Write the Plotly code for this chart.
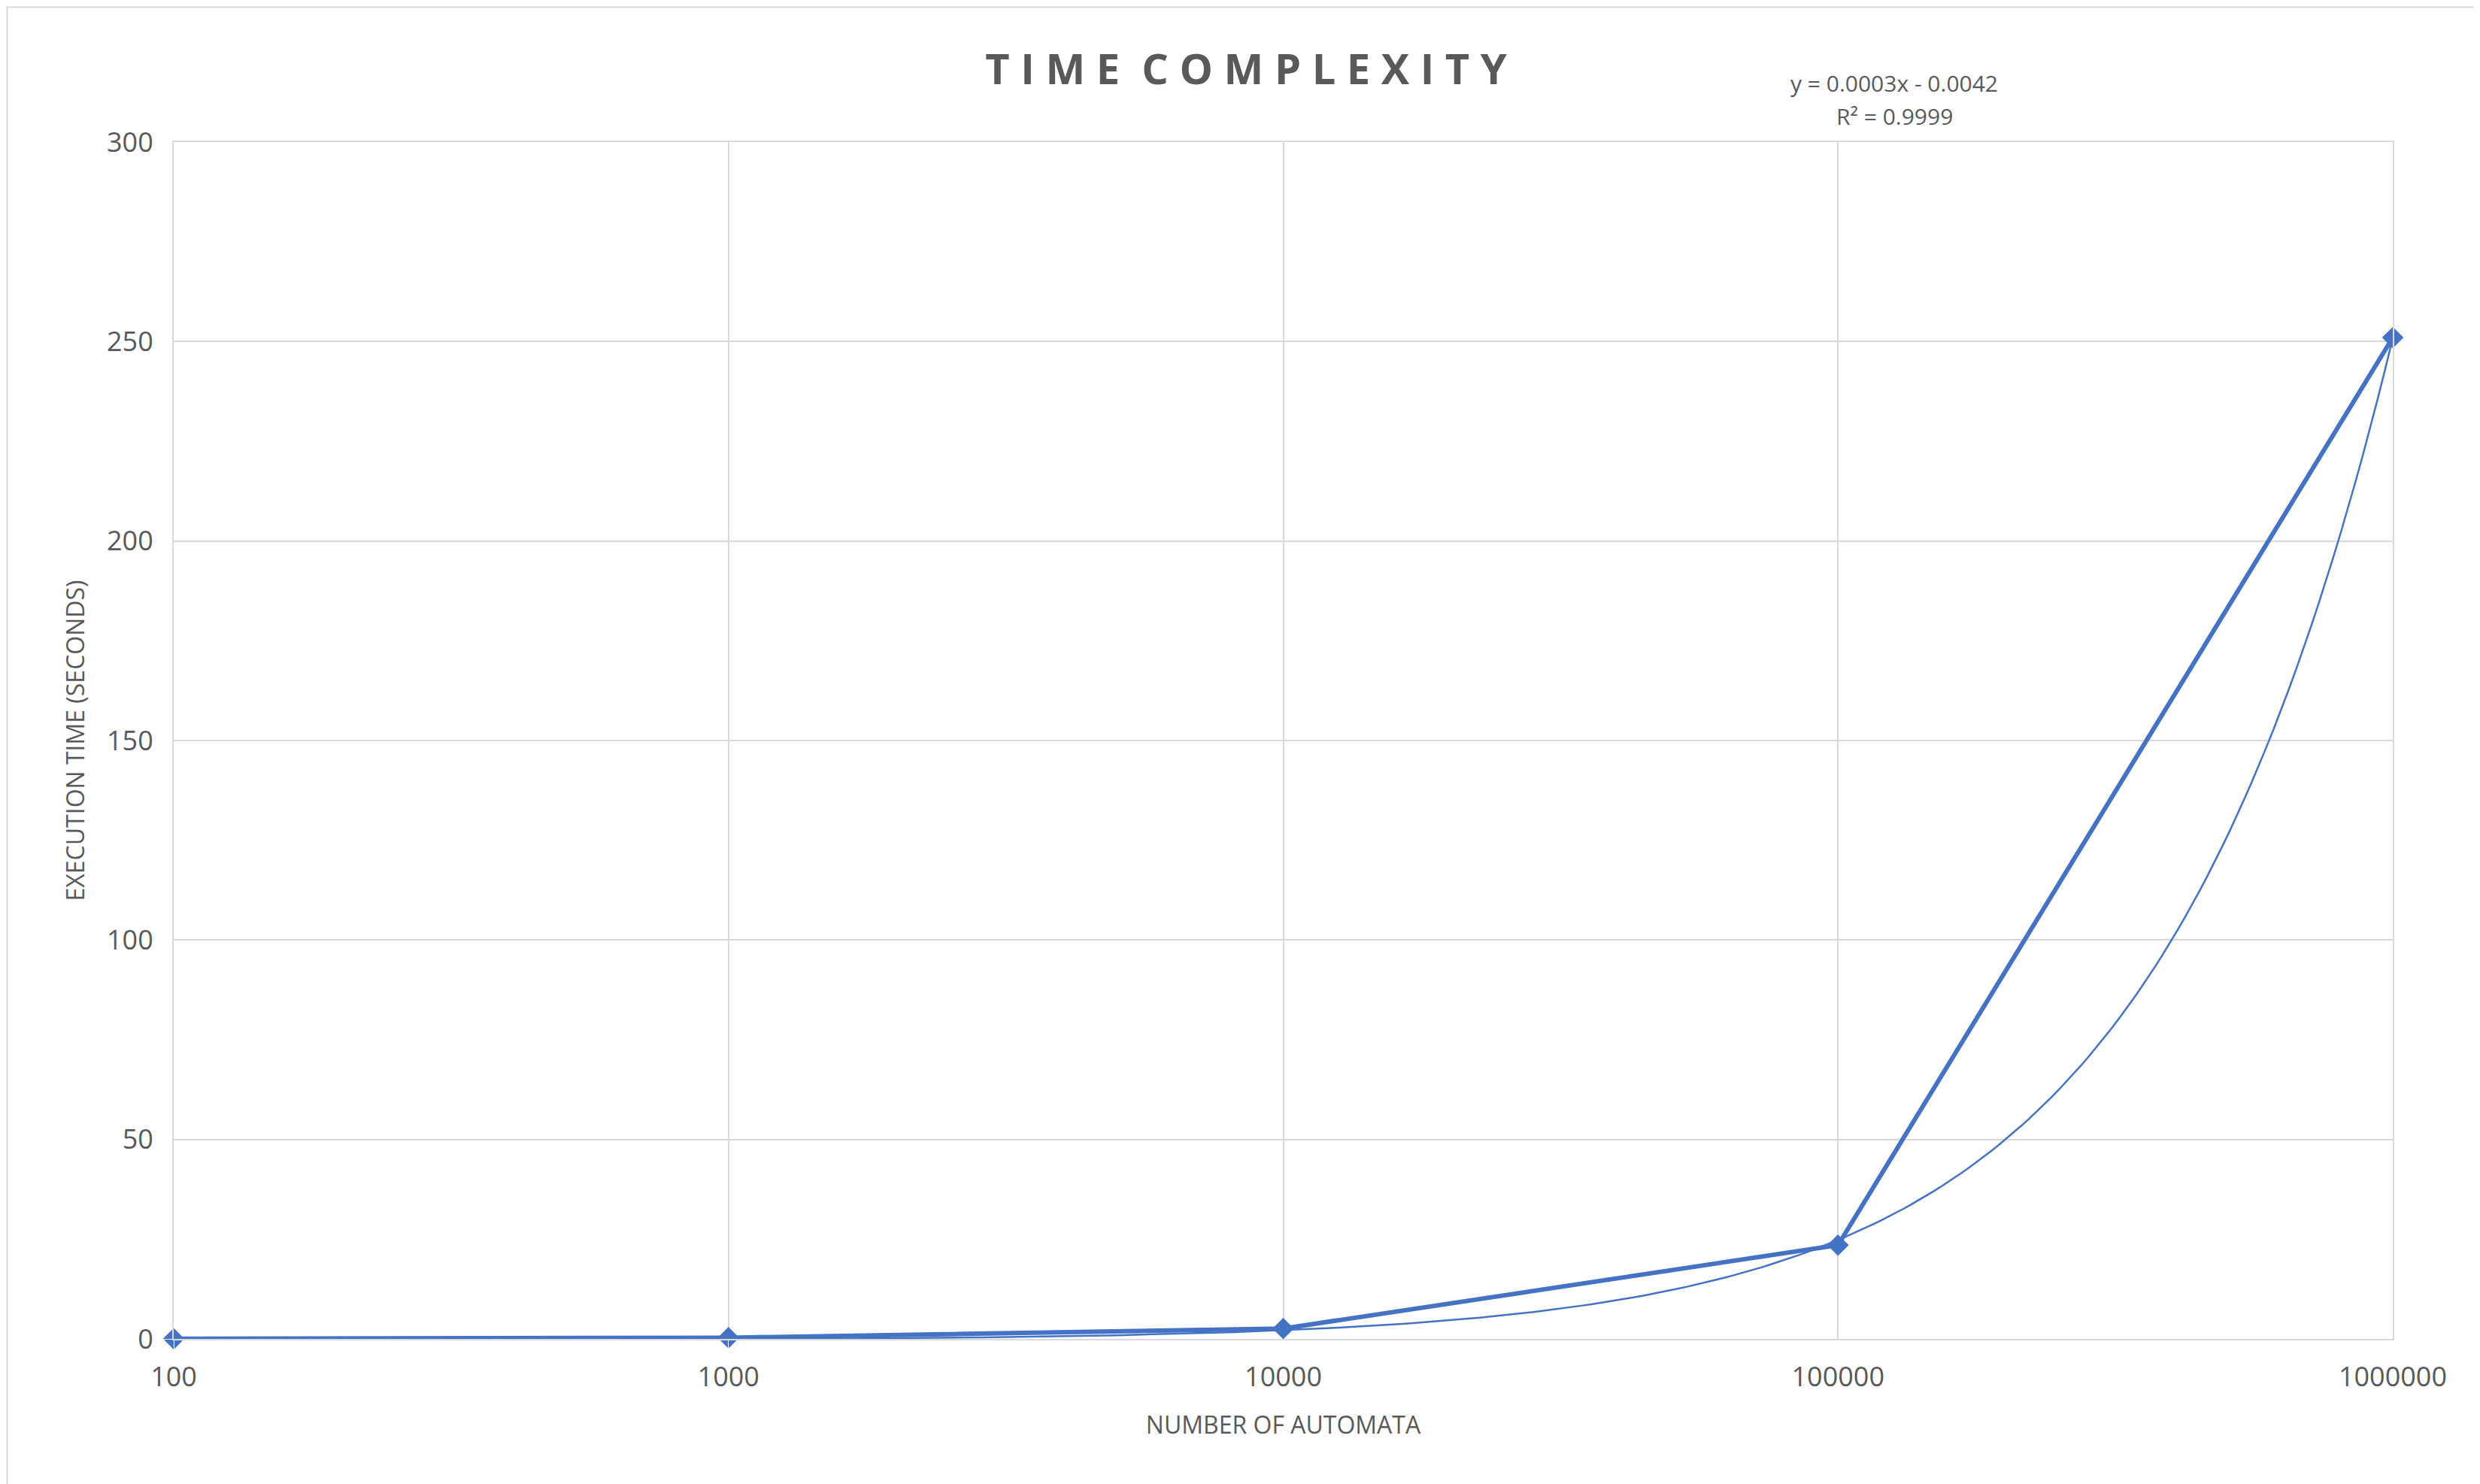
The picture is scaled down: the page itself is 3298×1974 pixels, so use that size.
import numpy as np
import plotly.graph_objects as go

automata = [100, 1000, 10000, 100000, 1000000]
exec_time = [0.03, 0.3, 2.6, 23.5, 251.0]
tick_vals = [100, 1000, 10000, 100000, 1000000]
tick_text = ["100", "1000", "10000", "100000", "1000000"]

W, H = 3298, 1974
L, R, T, B = 223, 124, 181, 201
grey = "#595959"
blue = "#4472C4"

# linear trendline (fit on the data), drawn on the log axis
slope, icept = np.polyfit(automata, exec_time, 1)
xs = np.logspace(2, 6, 300)
ys = slope * xs + icept

fig = go.Figure()
fig.add_trace(go.Scatter(x=xs, y=ys, mode="lines", cliponaxis=False,
                         line=dict(color=blue, width=2.5), hoverinfo="skip"))
fig.add_trace(go.Scatter(x=automata, y=exec_time, mode="lines+markers", cliponaxis=False,
                         line=dict(color=blue, width=6),
                         marker=dict(symbol="diamond", size=22, color=blue)))

pw, ph = W - L - R, H - T - B
fig.add_shape(type="rect", xref="paper", yref="paper",
              x0=-L / pw + 0.0005, x1=1 + R / pw - 0.0005,
              y0=-B / ph + 0.001, y1=1 + T / ph - 0.001,
              line=dict(color="#d9d9d9", width=2))

fig.add_annotation(xref="paper", yref="paper", x=(2511 - L) / pw, y=1 + (T - 80) / ph,
                   text="y = 0.0003x - 0.0042", showarrow=False, xanchor="center",
                   align="center", font=dict(size=30, color=grey))
fig.add_annotation(xref="paper", yref="paper", x=(2511 - L) / pw, y=1 + (T - 124) / ph,
                   text="R² = 0.9999", showarrow=False, xanchor="center",
                   align="center", font=dict(size=30, color=grey))

fig.update_layout(
    width=W, height=H,
    margin=dict(l=L, r=R, t=T, b=B),
    paper_bgcolor="white", plot_bgcolor="white",
    showlegend=False,
    font=dict(family="Open Sans, Calibri, sans-serif", color=grey),
    title=dict(text="<b>T I M E  C O M P L E X I T Y</b>", x=0.5, xanchor="center",
               y=1 - 84 / H, yanchor="middle", font=dict(size=56, color=grey)),
    xaxis=dict(type="log", range=[2, 6], tickvals=tick_vals, ticktext=tick_text,
               showgrid=True, gridcolor="#d9d9d9", gridwidth=2, zeroline=False,
               showline=True, mirror=True, linecolor="#d9d9d9", linewidth=2,
               tickfont=dict(size=36, color=grey),
               ticks="outside", ticklen=18, tickcolor="white",
               title=dict(text="NUMBER OF AUTOMATA", font=dict(size=32, color=grey), standoff=30)),
    yaxis=dict(range=[0, 300], dtick=50, showgrid=True, gridcolor="#d9d9d9", gridwidth=2,
               zeroline=False, showline=True, mirror=True, linecolor="#d9d9d9", linewidth=2,
               tickfont=dict(size=36, color=grey),
               ticks="outside", ticklen=18, tickcolor="white",
               title=dict(text="EXECUTION TIME (SECONDS)", font=dict(size=32, color=grey), standoff=20)),
)
fig.write_html("out.html")
